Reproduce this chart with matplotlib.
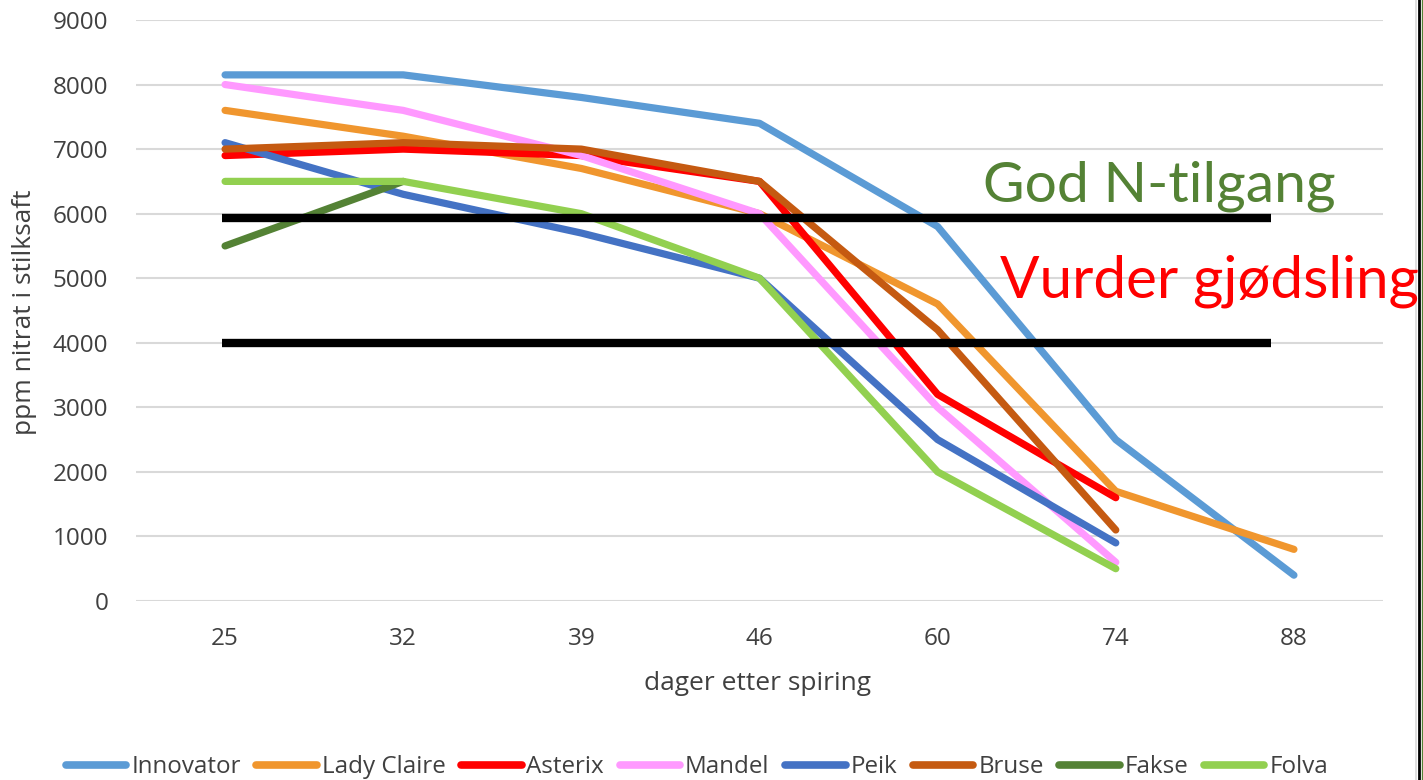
import numpy as np
import matplotlib
matplotlib.use("Agg")
import matplotlib.pyplot as plt
from matplotlib.lines import Line2D

# ---- data ----
days = ["25", "32", "39", "46", "60", "74", "88"]
nan = np.nan
innovator   = [8150, 8150, 7800, 7400, 5800, 2500, 400]
lady_claire = [7600, 7200, 6700, 6000, 4600, 1700, 800]
asterix     = [6900, 7000, 6900, 6500, 3200, 1600, nan]
mandel      = [8000, 7600, 6900, 6000, 3000, 600, nan]
peik        = [7100, 6300, 5700, 5000, 2500, 900, nan]
bruse       = [7000, 7100, 7000, 6500, 4200, 1100, nan]
fakse       = [5500, 6500, nan, nan, nan, nan, nan]
folva       = [6500, 6500, 6000, 5000, 2000, 500, nan]
series_names = ["Innovator", "Lady Claire", "Asterix", "Mandel", "Peik", "Bruse", "Fakse", "Folva"]
series_vals = [innovator, lady_claire, asterix, mandel, peik, bruse, fakse, folva]
colors = ["#5B9BD5", "#F0962E", "#FF0000", "#FF99FF", "#4472C4", "#C55A11", "#548235", "#92D050"]
thresholds = [5940, 4000]
y_ticks = [0, 1000, 2000, 3000, 4000, 5000, 6000, 7000, 8000, 9000]

plt.rcParams['font.family'] = ['Open Sans', 'DejaVu Sans']

W, H = 1423, 780
fig = plt.figure(figsize=(W / 100, H / 100), dpi=100)
ax = fig.add_axes([136 / W, 1 - 601 / H, (1383 - 136) / W, (601 - 20) / H])

x = np.arange(len(days))
for name, vals, c in zip(series_names, series_vals, colors):
    ax.plot(x, vals, color=c, lw=5.2, solid_capstyle='round', solid_joinstyle='round', label=name, zorder=3)

for t in thresholds:
    ax.plot([-0.02, 5.87], [t, t], color='black', lw=6, solid_capstyle='butt', zorder=4)

ax.set_xlim(-0.5, len(days) - 0.5)
ax.set_ylim(0, 9000)
ax.set_yticks(y_ticks)
ax.set_yticklabels([str(v) for v in y_ticks])
ax.set_xticks(x)
ax.set_xticklabels(days)
ax.tick_params(axis='both', length=0, labelsize=17.5, labelcolor='#404040')
ax.tick_params(axis='y', pad=20)
ax.tick_params(axis='x', pad=19)
ax.grid(axis='y', color='#D9D9D9', lw=1.5, zorder=0)
ax.set_axisbelow(True)
for s in ax.spines.values():
    s.set_visible(False)

fig.text(757 / W, 1 - 683 / H, "dager etter spiring", fontsize=19, color='#404040',
         ha='center', va='center')
fig.text(25 / W, 1 - 312 / H, "ppm nitrat i stilksaft", rotation=90, fontsize=19,
         color='#404040', ha='center', va='center')

fig.text(983 / W, 1 - 201 / H, "God N-tilgang", fontsize=41, color='#548235',
         ha='left', va='baseline', family=['Lato', 'DejaVu Sans'])
fig.text(1000 / W, 1 - 298 / H, "Vurder gjødsling", fontsize=42, color='#FF0000',
         ha='left', va='baseline', family=['Lato', 'DejaVu Sans'])

handles = [Line2D([0], [0], color=c, lw=5.5, solid_capstyle='round') for c in colors]
fig.legend(handles, series_names, loc='center', bbox_to_anchor=(697 / W, 1 - 767 / H),
           ncol=8, frameon=False, fontsize=17.4, handlelength=2.5, handletextpad=0.2,
           columnspacing=0.65, labelcolor='#404040')

# right border of the original image
fig.add_artist(Line2D([1416 / W, 1416 / W], [0, 1], color='#D9D9D9', lw=1.2, transform=fig.transFigure))
fig.add_artist(Line2D([1419 / W, 1419 / W], [0, 1], color='black', lw=2, transform=fig.transFigure))
fig.add_artist(Line2D([1421.5 / W, 1421.5 / W], [0, 1], color='#548235', lw=1, transform=fig.transFigure))

fig.savefig("out.png", dpi=100, facecolor='white')
